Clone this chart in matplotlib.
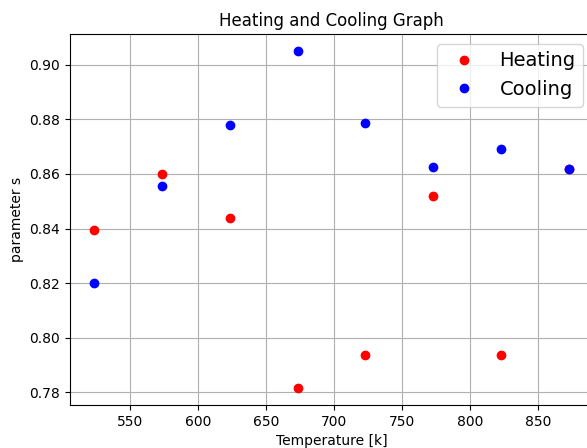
import matplotlib
matplotlib.use("Agg")
import matplotlib.pyplot as plt

temps = [523, 573, 623, 673, 723, 773, 823, 873]
heating = [0.8396, 0.8598, 0.8437, 0.7815, 0.7938, 0.8520, 0.7938, 0.8617]
cooling = [0.8199, 0.8554, 0.8780, 0.9051, 0.8788, 0.8627, 0.8693, 0.8617]

fig = plt.figure(figsize=(5.87, 4.48), dpi=100)
# axes runs past the right edge, like the cropped original
ax = fig.add_axes([70 / 587, 43 / 448, 523 / 587, 371 / 448])
ax.plot(temps, heating, "o", color="red", label="Heating")
ax.plot(temps, cooling, "o", color="blue", label="Cooling")
ax.grid(True)
ax.set_xlabel("Temperature [k]")
ax.set_ylabel("parameter s")
ax.set_title("Heating and Cooling Graph")
ax.legend(loc="upper right", fontsize=14)
fig.savefig("out.png", dpi=100)
